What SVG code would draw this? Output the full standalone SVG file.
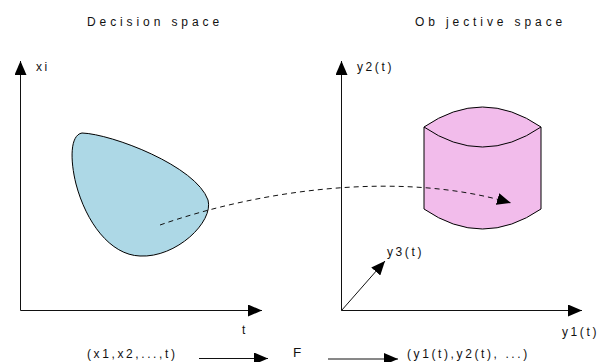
<svg xmlns="http://www.w3.org/2000/svg" width="599" height="362" viewBox="0 0 599 362">
<style>
text{font-family:"Liberation Sans",Arial,sans-serif;font-size:12px;fill:#111;letter-spacing:2.6px}
.title{letter-spacing:3.9px}
.big{font-size:13.5px}
.ax{stroke:#111;stroke-width:1;fill:none}
.head{fill:#000}
</style>
<defs>
<marker id="ah" markerWidth="14" markerHeight="12" refX="14" refY="6" orient="auto" markerUnits="userSpaceOnUse">
<path d="M0,0 L14,6 L0,12 Z" class="head"/>
</marker>
</defs>
<rect width="599" height="362" fill="#fff"/>
<g id="titles">
<text class="title" x="87" y="26">Decision space</text>
<text class="title" x="415" y="26">Ob jective space</text>
</g>
<g id="decision-region">
<path d="M82,133 C112,134 196,166 208,200 C214,222 176,258 140,256 C110,255 86,222 76,184 C70,160 70,135 82,133 Z" fill="#ADD8E6" stroke="#000" stroke-width="1"/>
</g>
<g id="objective-region">
<path d="M424,127 Q482.5,87 541,127 L541,209 Q482.5,249 424,209 Z" fill="#F2BCEB" stroke="#000" stroke-width="1"/>
<path d="M424,127 Q482.5,167 541,127" fill="none" stroke="#000" stroke-width="1"/>
</g>
<g id="connectors">
<line class="ax" x1="20.5" y1="310.5" x2="20.5" y2="61" marker-end="url(#ah)"/>
<line class="ax" x1="20.5" y1="310.5" x2="262" y2="310.5" marker-end="url(#ah)"/>
<line class="ax" x1="341.5" y1="310.5" x2="341.5" y2="61" marker-end="url(#ah)"/>
<line class="ax" x1="341.5" y1="310.5" x2="582" y2="310.5" marker-end="url(#ah)"/>
<line class="ax" x1="341.5" y1="310.5" x2="385" y2="261" marker-end="url(#ah)"/>
<path class="ax" d="M160,225 C260,190 400,170 511,203" stroke-dasharray="5,4" marker-end="url(#ah)"/>
<line class="ax" x1="199" y1="358.5" x2="268" y2="358.5" marker-end="url(#ah)"/>
<line class="ax" x1="328" y1="359" x2="398" y2="359" marker-end="url(#ah)"/>
</g>
<g id="labels">
<text x="36" y="71">xi</text>
<text x="242" y="334">t</text>
<text x="357" y="71">y2(t)</text>
<text x="387" y="256">y3(t)</text>
<text x="562" y="336">y1(t)</text>
<text x="87" y="358">(x1,x2,...,t)</text>
<text class="big" x="293" y="356.5">F</text>
<text x="407" y="358">(y1(t),y2(t), ...)</text>
</g>
</svg>
